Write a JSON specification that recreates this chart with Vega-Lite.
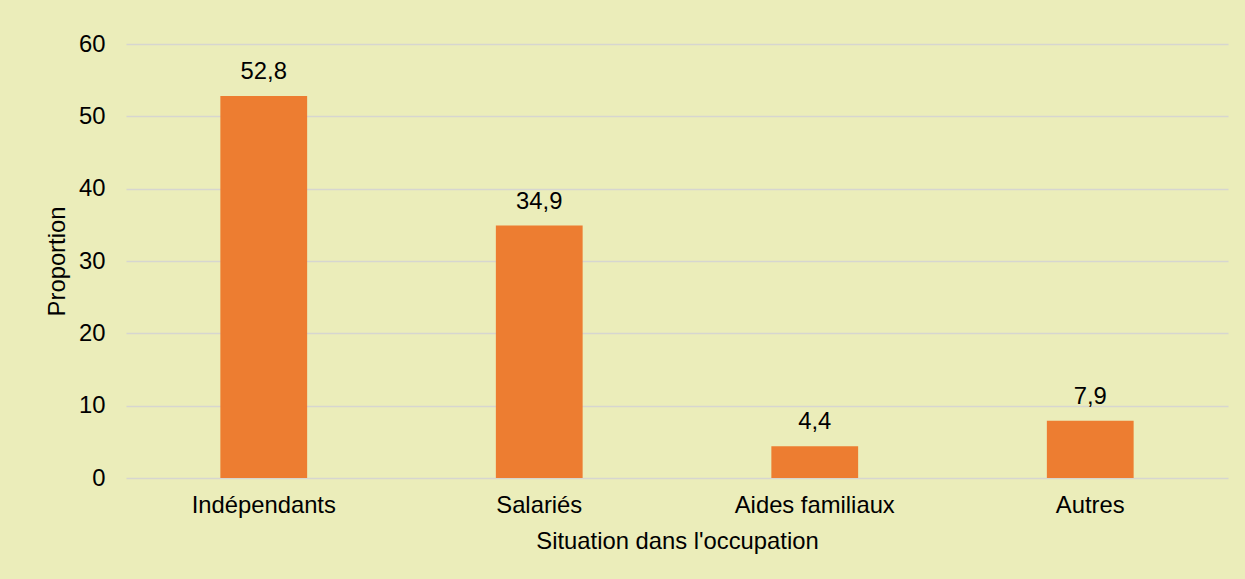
{
  "$schema": "https://vega.github.io/schema/vega-lite/v6.json",
  "width": 1102,
  "height": 434,
  "autosize": {"type": "none"},
  "padding": {"left": 126, "top": 44, "right": 17, "bottom": 101},
  "background": "#EBEDBA",
  "data": {
    "values": [
      {"situation": "Indépendants", "proportion": 52.8},
      {"situation": "Salariés", "proportion": 34.9},
      {"situation": "Aides familiaux", "proportion": 4.4},
      {"situation": "Autres", "proportion": 7.9}
    ]
  },
  "encoding": {
    "x": {
      "field": "situation",
      "type": "nominal",
      "sort": null,
      "scale": {"paddingInner": 0.685, "paddingOuter": 0.3425},
      "axis": {
        "title": "Situation dans l'occupation",
        "labelAngle": 0,
        "ticks": false,
        "domain": false,
        "labelBaseline": "alphabetic",
        "labelPadding": 34,
        "titleBaseline": "alphabetic",
        "titleY": 70,
        "titlePadding": 0
      }
    },
    "y": {
      "field": "proportion",
      "type": "quantitative",
      "scale": {"domain": [0, 60]},
      "axis": {
        "title": "Proportion",
        "values": [0, 10, 20, 30, 40, 50, 60],
        "ticks": false,
        "domain": false,
        "labelPadding": 21,
        "titleBaseline": "alphabetic",
        "titleX": -62,
        "titleY": 217,
        "gridColor": "#D6D6D0",
        "gridWidth": 1.6
      }
    }
  },
  "layer": [
    {"mark": {"type": "bar", "color": "#ED7D31"}},
    {
      "mark": {"type": "text", "baseline": "alphabetic", "dy": -17, "fontSize": 23.8, "font": "Liberation Sans", "color": "#000000"},
      "encoding": {"text": {"field": "proportion", "type": "quantitative", "format": ".1f"}}
    }
  ],
  "config": {
    "locale": {"number": {"decimal": ",", "thousands": " ", "grouping": [3], "currency": ["", " €"]}},
    "view": {"stroke": null},
    "axis": {
      "labelFont": "Liberation Sans",
      "titleFont": "Liberation Sans",
      "labelFontSize": 23.8,
      "titleFontSize": 23.8,
      "titleFontWeight": "normal",
      "labelColor": "#000000",
      "titleColor": "#000000"
    }
  }
}
